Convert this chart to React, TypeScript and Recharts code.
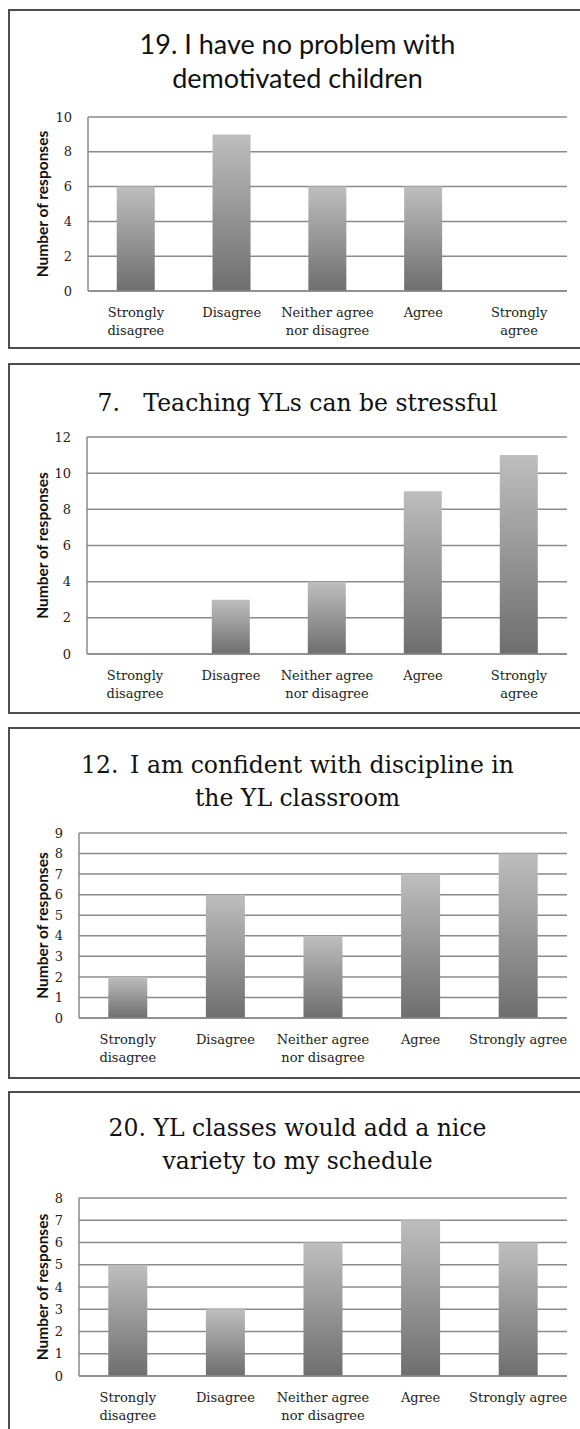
import React from 'react';
import { BarChart, Bar, XAxis, YAxis, CartesianGrid } from 'recharts';

// ---- data ----
const categories = ['Strongly disagree', 'Disagree', 'Neither agree nor disagree', 'Agree', 'Strongly agree'];
const labelsWrapped = ['Strongly\ndisagree', 'Disagree', 'Neither agree\nnor disagree', 'Agree', 'Strongly\nagree'];
const labelsFlatLast = ['Strongly\ndisagree', 'Disagree', 'Neither agree\nnor disagree', 'Agree', 'Strongly agree'];

const values19 = [6, 9, 6, 6, 0];
const values7 = [0, 3, 4, 9, 11];
const values12 = [2, 6, 4, 7, 8];
const values20 = [5, 3, 6, 7, 6];

const ticks19 = [0, 2, 4, 6, 8, 10];
const ticks7 = [0, 2, 4, 6, 8, 10, 12];
const ticks12 = [0, 1, 2, 3, 4, 5, 6, 7, 8, 9];
const ticks20 = [0, 1, 2, 3, 4, 5, 6, 7, 8];

const title19 = ['19. I have no problem with', 'demotivated children'];
const title7 = ['7.\u2003Teaching YLs can be stressful'];
const title12 = ['12.\u2002I am confident with discipline in', 'the YL classroom'];
const title20 = ['20. YL classes would add a nice', 'variety to my schedule'];

const yLabel = 'Number of responses';

const SERIF = '"DejaVu Serif", serif';
const SANS = 'Lato, "Open Sans", sans-serif';
const GRID = '#8a8a8a';

type PanelCfg = {
  id: string;
  title: string[];
  titleFont: string;
  titleSize: number;
  titleBase: number[];
  values: number[];
  labels: string[];
  ticks: number[];
  boxTop: number;
  boxH: number;
  plotTop: number;
  plotBottom: number;
  plotLeft: number;
};

const panels: PanelCfg[] = [
  { id: 'q19', title: title19, titleFont: SANS, titleSize: 27, titleBase: [54, 88], values: values19, labels: labelsWrapped, ticks: ticks19, boxTop: 9, boxH: 340, plotTop: 117, plotBottom: 291, plotLeft: 88 },
  { id: 'q7', title: title7, titleFont: SERIF, titleSize: 23.5, titleBase: [411], values: values7, labels: labelsWrapped, ticks: ticks7, boxTop: 363, boxH: 351, plotTop: 437, plotBottom: 654, plotLeft: 87 },
  { id: 'q12', title: title12, titleFont: SERIF, titleSize: 23.5, titleBase: [773, 806], values: values12, labels: labelsFlatLast, ticks: ticks12, boxTop: 727, boxH: 352, plotTop: 833, plotBottom: 1018, plotLeft: 79 },
  { id: 'q20', title: title20, titleFont: SERIF, titleSize: 23.5, titleBase: [1136, 1169], values: values20, labels: labelsFlatLast, ticks: ticks20, boxTop: 1091, boxH: 400, plotTop: 1198, plotBottom: 1376, plotLeft: 79 },
];

const PLOT_RIGHT = 567;
const Y_W = 60;
const X_H = 45;

const XTick = (props: any) => {
  const { x, y, payload } = props;
  const lines = String(payload.value).split('\n');
  return (
    <text x={x} y={y} textAnchor="middle" fontFamily={SERIF} fontSize={13} fill="#222">
      {lines.map((l, i) => (
        <tspan key={i} x={x} y={y + 26 + i * 18}>{l}</tspan>
      ))}
    </text>
  );
};

const Panel = ({ cfg }: { cfg: PanelCfg }) => {
  const data = categories.map((c, i) => ({ category: c, label: cfg.labels[i], value: cfg.values[i] }));
  const chartTop = cfg.boxTop;
  const chartH = cfg.boxH;
  const margin = {
    top: cfg.plotTop - chartTop,
    left: cfg.plotLeft - Y_W,
    right: 580 - PLOT_RIGHT,
    bottom: chartTop + chartH - cfg.plotBottom - X_H,
  };
  const max = cfg.ticks[cfg.ticks.length - 1];
  return (
    <>
      <div
        style={{
          position: 'absolute',
          left: 8,
          top: cfg.boxTop,
          width: 580,
          height: cfg.boxH,
          border: '2px solid #4d4d4d',
          boxSizing: 'border-box',
        }}
      />
      <div style={{ position: 'absolute', left: 0, top: chartTop }}>
        <BarChart width={580} height={chartH} data={data} margin={margin} barCategoryGap="30%">
          <defs>
            <linearGradient id={`grad-${cfg.id}`} x1="0" y1="0" x2="0" y2="1">
              <stop offset="0%" stopColor="#bebebe" />
              <stop offset="100%" stopColor="#6e6e6e" />
            </linearGradient>
          </defs>
          <CartesianGrid vertical={false} stroke={GRID} strokeWidth={1.5} />
          <XAxis
            dataKey="label"
            interval={0}
            tickLine={false}
            tickSize={0}
            tickMargin={0}
            height={X_H}
            axisLine={{ stroke: GRID, strokeWidth: 1.5 }}
            tick={<XTick />}
          />
          <YAxis
            domain={[0, max]}
            ticks={cfg.ticks}
            interval={0}
            width={Y_W}
            tickLine={false}
            tickSize={0}
            tickMargin={16}
            axisLine={{ stroke: GRID, strokeWidth: 1.5 }}
            tick={{ fontFamily: SERIF, fontSize: 13, fill: '#222' }}
          />
          <Bar dataKey="value" fill={`url(#grad-${cfg.id})`} isAnimationActive={false} />
        </BarChart>
      </div>
    </>
  );
};

export default function App() {
  return (
    <div style={{ position: 'absolute', left: 0, top: 0, width: 580, height: 1429, overflow: 'hidden', background: '#fff' }}>
      {panels.map((p) => (
        <Panel key={p.id} cfg={p} />
      ))}
      <svg width={580} height={1429} style={{ position: 'absolute', left: 0, top: 0, pointerEvents: 'none' }}>
        {panels.map((p) => (
          <g key={p.id}>
            {p.title.map((t, i) => (
              <text
                key={i}
                x={297.5}
                y={p.titleBase[i]}
                textAnchor="middle"
                fontFamily={p.titleFont}
                fontSize={p.titleSize}
                fill="#111"
                style={{ whiteSpace: 'pre' }}
              >
                {t}
              </text>
            ))}
            <text
              transform={`translate(42,${(p.plotTop + p.plotBottom) / 2}) rotate(-90)`}
              textAnchor="middle"
              dominantBaseline="central"
              fontFamily={SANS}
              fontWeight={700}
              fontSize={15.5}
              fill="#111"
            >
              {yLabel}
            </text>
          </g>
        ))}
      </svg>
    </div>
  );
}
